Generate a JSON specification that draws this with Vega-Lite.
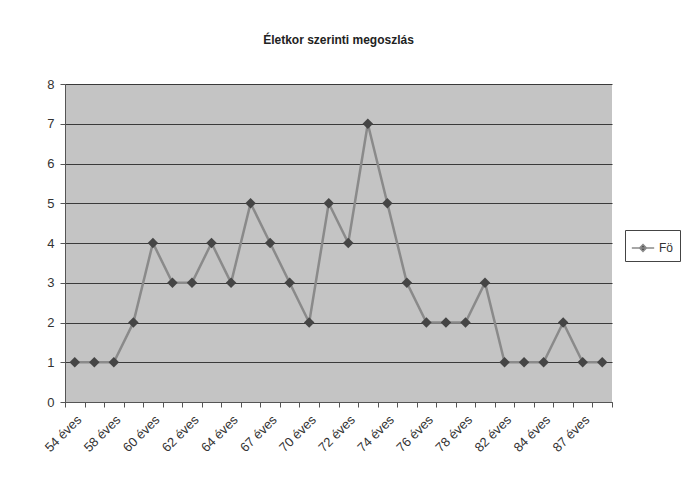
{
  "$schema": "https://vega.github.io/schema/vega-lite/v6.json",
  "width": 547,
  "height": 318,
  "autosize": "none",
  "padding": {"left": 65, "top": 84, "right": 76, "bottom": 76},
  "background": "white",
  "title": {
    "text": "Életkor szerinti megoszlás",
    "font": "Liberation Sans",
    "fontSize": 12,
    "fontWeight": "bold",
    "color": "#222",
    "anchor": "middle",
    "offset": 31
  },
  "config": {
    "view": {"fill": "#c4c4c4", "stroke": null},
    "font": "Liberation Sans"
  },
  "data": {
    "values": [
      {"kor": "54 éves", "fo": 1, "s": "Fö"},
      {"kor": "56 éves", "fo": 1, "s": "Fö"},
      {"kor": "58 éves", "fo": 1, "s": "Fö"},
      {"kor": "59 éves", "fo": 2, "s": "Fö"},
      {"kor": "60 éves", "fo": 4, "s": "Fö"},
      {"kor": "61 éves", "fo": 3, "s": "Fö"},
      {"kor": "62 éves", "fo": 3, "s": "Fö"},
      {"kor": "63 éves", "fo": 4, "s": "Fö"},
      {"kor": "64 éves", "fo": 3, "s": "Fö"},
      {"kor": "66 éves", "fo": 5, "s": "Fö"},
      {"kor": "67 éves", "fo": 4, "s": "Fö"},
      {"kor": "68 éves", "fo": 3, "s": "Fö"},
      {"kor": "70 éves", "fo": 2, "s": "Fö"},
      {"kor": "71 éves", "fo": 5, "s": "Fö"},
      {"kor": "72 éves", "fo": 4, "s": "Fö"},
      {"kor": "73 éves", "fo": 7, "s": "Fö"},
      {"kor": "74 éves", "fo": 5, "s": "Fö"},
      {"kor": "75 éves", "fo": 3, "s": "Fö"},
      {"kor": "76 éves", "fo": 2, "s": "Fö"},
      {"kor": "77 éves", "fo": 2, "s": "Fö"},
      {"kor": "78 éves", "fo": 2, "s": "Fö"},
      {"kor": "80 éves", "fo": 3, "s": "Fö"},
      {"kor": "82 éves", "fo": 1, "s": "Fö"},
      {"kor": "83 éves", "fo": 1, "s": "Fö"},
      {"kor": "84 éves", "fo": 1, "s": "Fö"},
      {"kor": "85 éves", "fo": 2, "s": "Fö"},
      {"kor": "87 éves", "fo": 1, "s": "Fö"},
      {"kor": "89 éves", "fo": 1, "s": "Fö"}
    ]
  },
  "encoding": {
    "x": {
      "field": "kor",
      "type": "nominal",
      "sort": null,
      "scale": {"paddingInner": 0, "paddingOuter": 0},
      "axis": {
        "title": null,
        "labelAngle": -45,
        "labelFontSize": 13,
        "labelColor": "#333",
        "labelPadding": 6,
        "labelExpr": "indexof(['54 éves','58 éves','60 éves','62 éves','64 éves','67 éves','70 éves','72 éves','74 éves','76 éves','78 éves','82 éves','84 éves','87 éves'], datum.value) >= 0 ? datum.label : ''",
        "tickBand": "extent",
        "tickColor": "#555",
        "tickSize": 5,
        "domainColor": "#555",
        "grid": false
      }
    },
    "y": {
      "field": "fo",
      "type": "quantitative",
      "scale": {"domain": [0, 8], "nice": false},
      "axis": {
        "title": null,
        "values": [0, 1, 2, 3, 4, 5, 6, 7, 8],
        "labelFontSize": 13,
        "labelColor": "#333",
        "labelPadding": 6,
        "tickColor": "#555",
        "tickSize": 5,
        "domainColor": "#555",
        "grid": true,
        "gridColor": "#3a3a3a",
        "gridOpacity": 1,
        "gridWidth": 1
      }
    }
  },
  "layer": [
    {
      "mark": {"type": "line", "strokeWidth": 2.5},
      "encoding": {
        "stroke": {
          "field": "s",
          "type": "nominal",
          "scale": {"range": ["#8a8a8a"]},
          "legend": {
            "title": null,
            "orient": "none",
            "legendX": 560,
            "legendY": 146,
            "strokeColor": "#444",
            "padding": 6,
            "labelFontSize": 12,
            "labelColor": "#333",
            "symbolType": "M-1,0H1M0,-0.3L0.3,0L0,0.3L-0.3,0Z",
            "symbolSize": 500,
            "symbolStrokeWidth": 1.5,
            "encode": {"symbols": {"update": {"fill": {"value": "#444"}}}}
          }
        }
      }
    },
    {
      "mark": {"type": "point", "shape": "diamond", "filled": true, "size": 110, "color": "#454545", "opacity": 1}
    }
  ]
}
